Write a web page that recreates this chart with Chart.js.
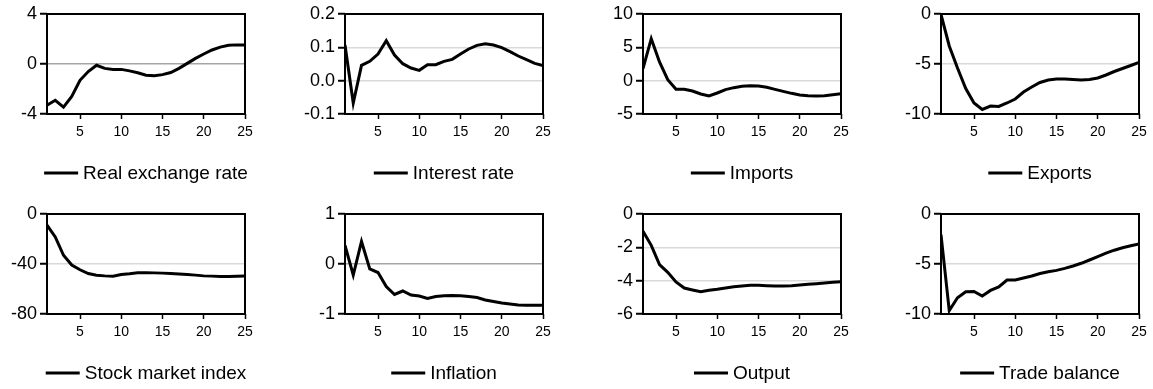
<!DOCTYPE html>
<html>
<head>
<meta charset="utf-8">
<script src="https://cdn.jsdelivr.net/npm/chart.js@4.4.1/dist/chart.umd.min.js"></script>
<style>
  html, body { margin: 0; background: #fff; }
  #grid { position: relative; width: 1153px; height: 389px; }
  #grid canvas { position: absolute; }
</style>
</head>
<body>
<div id="grid"></div>
<script>
// Impulse responses, periods 1..25
const periods = [1, 2, 3, 4, 5, 6, 7, 8, 9, 10, 11, 12, 13, 14, 15, 16, 17, 18, 19, 20, 21, 22, 23, 24, 25];
const xTicks = [5, 10, 15, 20, 25];

const realExchangeRate = [-3.3, -2.9, -3.45, -2.6, -1.3, -0.6, -0.1, -0.35, -0.43, -0.43, -0.55, -0.7, -0.9,
  -0.93, -0.85, -0.68, -0.35, 0.05, 0.45, 0.8, 1.12, 1.35, 1.5, 1.53, 1.53];
const interestRate = [0.107, -0.067, 0.046, 0.058, 0.08, 0.12, 0.077, 0.051, 0.038, 0.031, 0.048, 0.048, 0.058,
  0.064, 0.08, 0.095, 0.106, 0.111, 0.107, 0.099, 0.087, 0.074, 0.063, 0.052, 0.045];
const imports = [1.8, 6.3, 2.8, 0.15, -1.3, -1.3, -1.55, -2.0, -2.3, -1.85, -1.35, -1.05, -0.85,
  -0.75, -0.8, -1.0, -1.3, -1.6, -1.9, -2.15, -2.25, -2.3, -2.25, -2.1, -1.95];
const exports = [-0.05, -3.2, -5.4, -7.45, -8.9, -9.55, -9.2, -9.25, -8.9, -8.5, -7.8, -7.3, -6.85,
  -6.6, -6.5, -6.5, -6.55, -6.6, -6.55, -6.4, -6.1, -5.75, -5.45, -5.15, -4.85];
const stockMarketIndex = [-8.9, -18.4, -33, -40.8, -44.6, -47.6, -49, -49.5, -49.7, -48.4, -47.8, -47, -47,
  -47.1, -47.3, -47.6, -48, -48.4, -48.9, -49.5, -49.7, -50, -50, -49.8, -49.5];
const inflation = [0.37, -0.22, 0.45, -0.1, -0.17, -0.45, -0.61, -0.54, -0.62, -0.64, -0.69, -0.65, -0.635,
  -0.63, -0.635, -0.65, -0.67, -0.72, -0.75, -0.78, -0.8, -0.82, -0.825, -0.825, -0.825];
const output = [-1.03, -1.88, -3.04, -3.5, -4.08, -4.44, -4.56, -4.67, -4.58, -4.52, -4.44, -4.36, -4.32,
  -4.28, -4.28, -4.3, -4.32, -4.32, -4.3, -4.26, -4.22, -4.18, -4.14, -4.1, -4.06];
const tradeBalance = [-2.06, -9.66, -8.38, -7.77, -7.74, -8.2, -7.64, -7.3, -6.6, -6.6, -6.4, -6.2, -5.95,
  -5.78, -5.64, -5.44, -5.2, -4.93, -4.6, -4.26, -3.92, -3.62, -3.38, -3.18, -3.0];

const names = ["Real exchange rate", "Interest rate", "Imports", "Exports",
  "Stock market index", "Inflation", "Output", "Trade balance"];
const series = [realExchangeRate, interestRate, imports, exports,
  stockMarketIndex, inflation, output, tradeBalance];
const yTicks = [[-4, 0, 4], [-0.1, 0, 0.1, 0.2], [-5, 0, 5, 10], [-10, -5, 0],
  [-80, -40, 0], [-1, 0, 1], [-6, -4, -2, 0], [-10, -5, 0]];
const yDecimals = [0, 1, 0, 0, 0, 0, 0, 0];
const darkZero = [true, false, false, false, false, true, false, false];

const FONT = "'Liberation Sans', Arial, Helvetica, sans-serif";
Chart.defaults.font.family = FONT;
Chart.defaults.color = '#000';

const PANEL_W = 288, PANEL_H = 195, PLOT_W = 198, PLOT_H = 100, TOP = 14, X_AXIS_H = 30;

// box around the plot area
const framePlugin = {
  id: 'frame',
  afterDatasetsDraw(chart) {
    const { ctx, chartArea: a } = chart;
    ctx.save();
    ctx.strokeStyle = '#000';
    ctx.lineWidth = 2;
    ctx.strokeRect(a.left, a.top, a.right - a.left, a.bottom - a.top);
    ctx.restore();
  }
};

// line key centred under the plot area
const keyPlugin = {
  id: 'lineKey',
  afterDraw(chart) {
    const { ctx, chartArea: a } = chart;
    const text = chart.data.datasets[0].label;
    ctx.save();
    ctx.font = '19px ' + FONT;
    const tw = ctx.measureText(text).width;
    const x0 = (a.left + a.right) / 2 - (34 + 5 + tw) / 2;
    const y = a.bottom + 59;
    ctx.fillStyle = '#000';
    ctx.fillRect(x0, y - 1.5, 34, 3);
    ctx.textBaseline = 'middle';
    ctx.fillText(text, x0 + 39, y + 1);
    ctx.restore();
  }
};

const grid = document.getElementById('grid');

series.forEach((values, i) => {
  const col = i % 4, row = Math.floor(i / 4);
  const yw = 47 + 10 * col;
  const ticks = yTicks[i];
  const lo = ticks[0], hi = ticks[ticks.length - 1];

  const canvas = document.createElement('canvas');
  canvas.width = PANEL_W;
  canvas.height = PANEL_H;
  canvas.style.left = (col * PANEL_W) + 'px';
  canvas.style.top = (row * 200) + 'px';
  grid.appendChild(canvas);

  new Chart(canvas, {
    type: 'line',
    data: {
      labels: periods,
      datasets: [{
        label: names[i],
        data: periods.map((p, k) => ({ x: p, y: values[k] })),
        borderColor: '#000',
        borderWidth: 3,
        pointRadius: 0,
        tension: 0
      }]
    },
    plugins: [framePlugin, keyPlugin],
    options: {
      responsive: false,
      animation: false,
      layout: {
        padding: { top: TOP, left: 0, right: PANEL_W - yw - PLOT_W, bottom: PANEL_H - TOP - PLOT_H - X_AXIS_H }
      },
      plugins: { legend: { display: false }, tooltip: { enabled: false } },
      scales: {
        x: {
          type: 'linear',
          min: 1,
          max: 25,
          afterBuildTicks: s => { s.ticks = xTicks.map(v => ({ value: v })); },
          afterFit: s => { s.height = X_AXIS_H; },
          border: { display: false },
          grid: { drawOnChartArea: false, tickLength: 5, tickColor: '#000', tickWidth: 1.5 },
          ticks: { font: { size: 14 }, padding: 5, maxRotation: 0 }
        },
        y: {
          min: lo,
          max: hi,
          afterBuildTicks: s => { s.ticks = ticks.map(v => ({ value: v })); },
          afterFit: s => { s.width = yw; },
          border: { display: false },
          grid: {
            color: c => {
              const v = c.tick ? c.tick.value : null;
              if (v === lo || v === hi) return 'rgba(0,0,0,0)';
              return (darkZero[i] && v === 0) ? '#a6a6a6' : '#d9d9d9';
            },
            lineWidth: 1.5,
            tickLength: 7,
            tickColor: '#000',
            tickWidth: 2
          },
          ticks: {
            font: { size: 18 },
            padding: 3,
            callback: v => Number(v).toFixed(yDecimals[i])
          }
        }
      }
    }
  });
});
</script>
</body>
</html>
